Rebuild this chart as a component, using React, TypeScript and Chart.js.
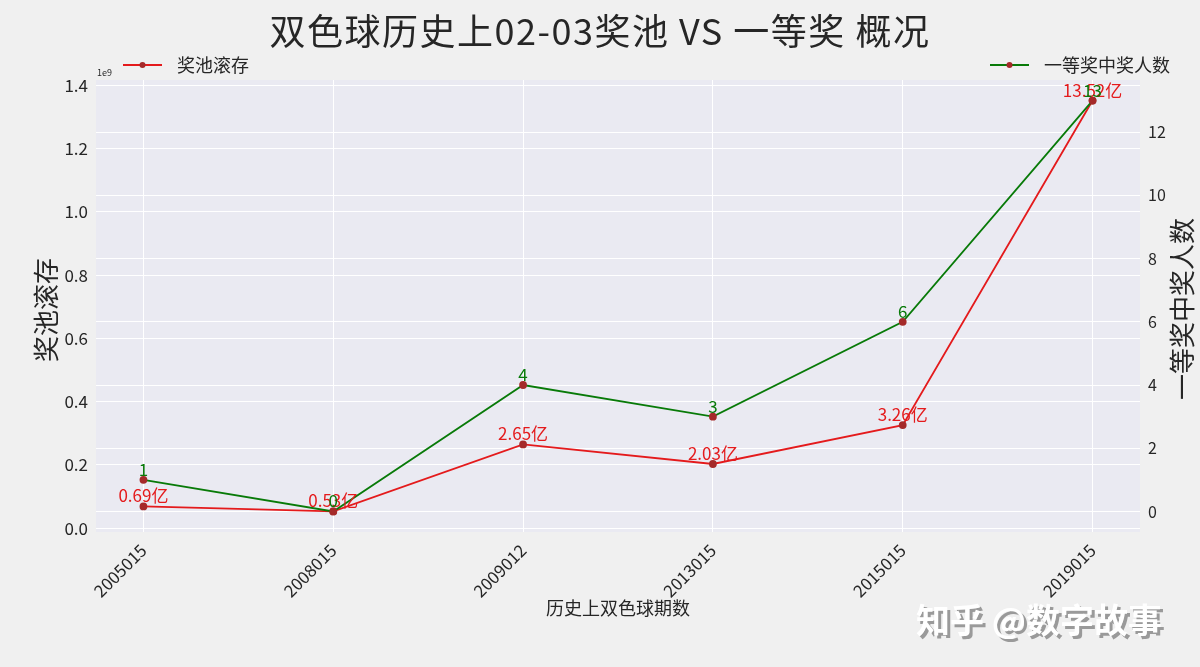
import React, { useEffect, useRef } from 'react';
import { Chart, registerables } from 'chart.js';
Chart.register(...registerables);

const periods = ['2005015', '2008015', '2009012', '2013015', '2015015', '2019015'];
const poolYi = [0.69, 0.53, 2.65, 2.03, 3.26, 13.52]; // 奖池滚存 (亿)
const winners = [1, 0, 4, 3, 6, 13]; // 一等奖中奖人数
const poolTicks = [0, 0.2, 0.4, 0.6, 0.8, 1.0, 1.2, 1.4]; // ×1e9
const winnerTicks = [0, 2, 4, 6, 8, 10, 12];

const FONT = '"Noto Sans CJK SC", "Noto Sans", sans-serif';
const RED = '#e41a1c';
const GREEN = '#087a08';
const MARKER = '#a52a2a';
const TEXT = '#262626';

export default function App() {
  const ref = useRef<HTMLCanvasElement>(null);
  useEffect(() => {
    const canvas = ref.current!;
    const poolData = poolYi.map((v, i) => ({ x: i, y: v / 10 }));
    const winData = winners.map((v, i) => ({ x: i, y: v }));

    const decor = {
      id: 'decor',
      beforeDraw(chart: any) {
        const { ctx, chartArea: a } = chart;
        ctx.save();
        ctx.fillStyle = '#f0f0f0';
        ctx.fillRect(0, 0, chart.width, chart.height);
        ctx.fillStyle = '#eaeaf2';
        ctx.fillRect(a.left, a.top, a.right - a.left, a.bottom - a.top);
        ctx.restore();
      },
      afterDatasetsDraw(chart: any) {
        const { ctx } = chart;
        ctx.save();
        ctx.font = `17px ${FONT}`;
        ctx.textAlign = 'center';
        ctx.textBaseline = 'alphabetic';
        const m0 = chart.getDatasetMeta(0);
        m0.data.forEach((p: any, i: number) => {
          ctx.fillStyle = RED;
          ctx.fillText(poolYi[i].toFixed(2) + '亿', p.x, p.y - 4);
        });
        const m1 = chart.getDatasetMeta(1);
        m1.data.forEach((p: any, i: number) => {
          ctx.fillStyle = GREEN;
          ctx.fillText(String(winners[i]), p.x, p.y - 4);
        });
        ctx.restore();
      },
      afterDraw(chart: any) {
        const { ctx, chartArea: a } = chart;
        ctx.save();
        ctx.fillStyle = TEXT;
        // title
        ctx.font = `36px ${FONT}`;
        ctx.textAlign = 'center';
        ctx.textBaseline = 'middle';
        try { (ctx as any).letterSpacing = '1.5px'; } catch (e) {}
        ctx.fillText('双色球历史上02-03奖池 VS 一等奖 概况', 600, 31);
        try { (ctx as any).letterSpacing = '0px'; } catch (e) {}
        // x title
        ctx.font = `18px ${FONT}`;
        ctx.fillText('历史上双色球期数', (a.left + a.right) / 2, 608);
        // y titles
        ctx.font = `26px ${FONT}`;
        ctx.save();
        ctx.translate(46, 310);
        ctx.rotate(-Math.PI / 2);
        ctx.fillText('奖池滚存', 0, 0);
        ctx.restore();
        ctx.save();
        ctx.translate(1182, 309);
        ctx.rotate(-Math.PI / 2);
        ctx.fillText('一等奖中奖人数', 0, 0);
        ctx.restore();
        // offset text
        ctx.font = `9px ${FONT}`;
        ctx.textAlign = 'left';
        ctx.fillText('1e9', a.left + 1, 73);
        // legends
        const leg = (x0: number, color: string, label: string) => {
          ctx.strokeStyle = color;
          ctx.lineWidth = 2;
          ctx.beginPath();
          ctx.moveTo(x0, 65);
          ctx.lineTo(x0 + 39, 65);
          ctx.stroke();
          ctx.fillStyle = MARKER;
          ctx.beginPath();
          ctx.arc(x0 + 19.5, 65, 3, 0, Math.PI * 2);
          ctx.fill();
          ctx.fillStyle = TEXT;
          ctx.font = `18px ${FONT}`;
          ctx.textAlign = 'left';
          ctx.textBaseline = 'middle';
          ctx.fillText(label, x0 + 54, 65);
        };
        leg(123, RED, '奖池滚存');
        leg(990, GREEN, '一等奖中奖人数');
        // watermark
        ctx.font = `bold 34px ${FONT}`;
        ctx.textAlign = 'center';
        ctx.textBaseline = 'middle';
        ctx.fillStyle = '#9a9a9a';
        ctx.fillText('知乎 @数字故事', 1042, 623);
        ctx.fillStyle = '#ffffff';
        ctx.fillText('知乎 @数字故事', 1039, 620);
        ctx.restore();
      },
    };

    const chart = new Chart(canvas, {
      type: 'line',
      data: {
        datasets: [
          {
            label: '奖池滚存',
            data: poolData,
            yAxisID: 'y',
            borderColor: RED,
            borderWidth: 1.8,
            pointBackgroundColor: MARKER,
            pointBorderColor: MARKER,
            pointRadius: 3,
            tension: 0,
            order: 2,
          },
          {
            label: '一等奖中奖人数',
            data: winData,
            yAxisID: 'y1',
            borderColor: GREEN,
            borderWidth: 1.8,
            pointBackgroundColor: MARKER,
            pointBorderColor: MARKER,
            pointRadius: 3,
            tension: 0,
            order: 1,
          },
        ],
      },
      options: {
        responsive: false,
        animation: false,
        layout: { padding: { top: 80, left: 0, right: 0, bottom: 0 } },
        plugins: { legend: { display: false }, tooltip: { enabled: false }, title: { display: false } },
        scales: {
          x: {
            type: 'linear',
            min: -0.25,
            max: 5.25,
            afterBuildTicks: (s: any) => { s.ticks = periods.map((_, i) => ({ value: i })); },
            afterFit: (s: any) => { s.height = 135; s.paddingLeft = 0; s.paddingRight = 0; },
            grid: { color: '#ffffff', lineWidth: 1, drawTicks: false },
            border: { display: false },
            ticks: {
              autoSkip: false,
              minRotation: 45,
              maxRotation: 45,
              padding: 8,
              color: TEXT,
              font: { family: FONT, size: 17 },
              callback: (v: any) => periods[v] ?? '',
            },
          },
          y: {
            type: 'linear',
            position: 'left',
            min: -0.01195,
            max: 1.41695,
            afterBuildTicks: (s: any) => { s.ticks = poolTicks.map((v) => ({ value: v })); },
            afterFit: (s: any) => { s.width = 96; },
            grid: { color: '#ffffff', lineWidth: 1, drawTicks: false },
            border: { display: false },
            ticks: {
              padding: 8,
              color: TEXT,
              font: { family: FONT, size: 17 },
              callback: (v: any) => Number(v).toFixed(1),
            },
          },
          y1: {
            type: 'linear',
            position: 'right',
            min: -0.65,
            max: 13.65,
            afterBuildTicks: (s: any) => { s.ticks = winnerTicks.map((v) => ({ value: v })); },
            afterFit: (s: any) => { s.width = 60; },
            grid: { color: '#ffffff', lineWidth: 1, drawTicks: false },
            border: { display: false },
            ticks: {
              padding: 8,
              color: TEXT,
              font: { family: FONT, size: 16 },
              callback: (v: any) => String(v),
            },
          },
        },
      },
      plugins: [decor],
    } as any);
    return () => chart.destroy();
  }, []);
  return (
    <div style={{ position: 'absolute', left: 0, top: 0, width: 1200, height: 667 }}>
      <canvas ref={ref} width={1200} height={667} style={{ display: 'block', width: 1200, height: 667 }} />
    </div>
  );
}
